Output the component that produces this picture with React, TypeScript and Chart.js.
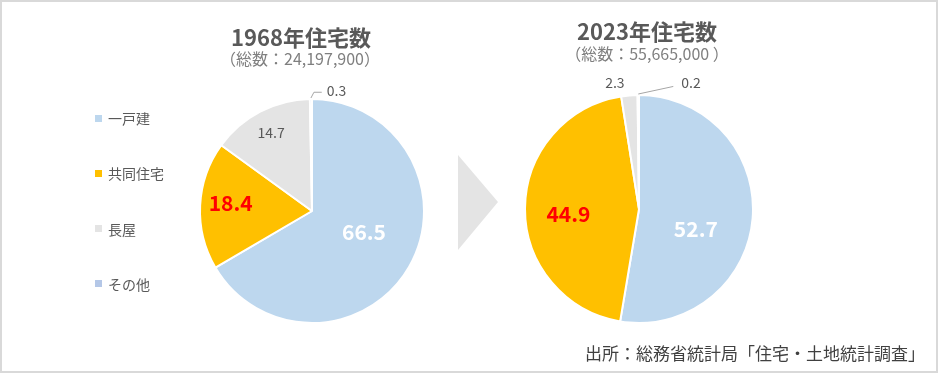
import React, { useEffect, useRef } from "react";
import { Chart, registerables } from "chart.js";

Chart.register(...registerables);

// ---- data ----
const categories = ["一戸建", "共同住宅", "長屋", "その他"];
const values1968 = [66.5, 18.4, 14.7, 0.3];
const values2023 = [52.7, 44.9, 2.3, 0.2];
const colors = ["#BDD7EE", "#FFC000", "#E4E4E4", "#B4C7E7"];
const title1968 = "1968年住宅数";
const subtitle1968 = "（総数：24,197,900）";
const title2023 = "2023年住宅数";
const subtitle2023 = "（総数：55,665,000 ）";
const sourceText = "出所：総務省統計局「住宅・土地統計調査」";

// ---- label styles ----
type LabelStyle = {
  frac: number;
  shift: number;
  color: string;
  bold: boolean;
  size: number;
  leader?: "elbow" | "straight";
};

const labelStyles1968: LabelStyle[] = [
  { frac: 0.5, shift: -8, color: "#FFFFFF", bold: true, size: 21 },
  { frac: 0.73, shift: 3, color: "#FF0000", bold: true, size: 21 },
  { frac: 0.79, shift: 0, color: "#595959", bold: false, size: 14 },
  { frac: 1.1, shift: 12, color: "#595959", bold: false, size: 14, leader: "elbow" },
];

const labelStyles2023: LabelStyle[] = [
  { frac: 0.53, shift: 15, color: "#FFFFFF", bold: true, size: 21 },
  { frac: 0.62, shift: -4, color: "#FF0000", bold: true, size: 21 },
  { frac: 1.125, shift: -6, color: "#595959", bold: false, size: 14 },
  { frac: 1.2, shift: 22.7, color: "#595959", bold: false, size: 14, leader: "straight" },
];

const FONT = '"Noto Sans CJK JP", "Noto Sans", sans-serif';

const sliceLabelPlugin = {
  id: "sliceLabels",
  afterDatasetsDraw(chart: any, _args: any, opts: any) {
    const styles: LabelStyle[] = opts.styles || [];
    const ctx: CanvasRenderingContext2D = chart.ctx;
    const meta = chart.getDatasetMeta(0);
    const data = chart.data.datasets[0].data as number[];
    meta.data.forEach((el: any, i: number) => {
      const s = styles[i];
      if (!s) return;
      const { x, y, startAngle, endAngle, outerRadius } = el.getProps(
        ["x", "y", "startAngle", "endAngle", "outerRadius"],
        true
      );
      const mid = (startAngle + endAngle) / 2;
      const a = mid + (s.shift * Math.PI) / 180;
      const r = outerRadius * s.frac;
      const lx = x + Math.cos(a) * r;
      const ly = y + Math.sin(a) * r;
      const text = data[i].toFixed(1);
      ctx.save();
      ctx.font = `${s.bold ? "bold " : ""}${s.size}px ${FONT}`;
      ctx.fillStyle = s.color;
      ctx.textAlign = "center";
      ctx.textBaseline = "middle";
      ctx.fillText(text, lx, ly);
      if (s.leader) {
        const w = ctx.measureText(text).width;
        const ex = x + Math.cos(mid) * (outerRadius + 1);
        const ey = y + Math.sin(mid) * (outerRadius + 1);
        ctx.strokeStyle = "#A6A6A6";
        ctx.lineWidth = 1;
        ctx.beginPath();
        ctx.moveTo(ex, ey);
        if (s.leader === "elbow") {
          ctx.lineTo(ex + 3, ly + 2);
          ctx.lineTo(lx - w / 2 - 5, ly + 2);
        } else {
          ctx.lineTo(lx - w / 2 - 8, ly + 4);
        }
        ctx.stroke();
      }
      ctx.restore();
    });
  },
};

function makePie(
  canvas: HTMLCanvasElement,
  values: number[],
  radius: number,
  padding: { left: number; right: number; top: number; bottom: number },
  styles: LabelStyle[]
) {
  return new Chart(canvas, {
    type: "pie",
    data: {
      labels: categories,
      datasets: [
        {
          data: values,
          backgroundColor: colors,
          borderColor: "#FFFFFF",
          borderWidth: 2,
          radius: radius,
        } as any,
      ],
    },
    options: {
      responsive: false,
      animation: false,
      layout: { padding },
      plugins: {
        legend: { display: false },
        tooltip: { enabled: false },
        sliceLabels: { styles },
      } as any,
    },
    plugins: [sliceLabelPlugin],
  });
}

export default function App() {
  const ref1 = useRef<HTMLCanvasElement>(null);
  const ref2 = useRef<HTMLCanvasElement>(null);

  useEffect(() => {
    const c1 = makePie(ref1.current!, values1968, 112, { left: 200, right: 46, top: 99, bottom: 52 }, labelStyles1968);
    const c2 = makePie(ref2.current!, values2023, 114, { left: 55, right: 187, top: 95, bottom: 52 }, labelStyles2023);
    return () => {
      c1.destroy();
      c2.destroy();
    };
  }, []);

  const textBase: React.CSSProperties = {
    position: "absolute",
    fontFamily: FONT,
    whiteSpace: "nowrap",
    textAlign: "center",
  };

  return (
    <div
      style={{
        position: "absolute",
        left: 0,
        top: 0,
        width: 940,
        height: 375,
        background: "#FFFFFF",
        overflow: "hidden",
      }}
    >
      <div
        style={{
          position: "absolute",
          left: 0,
          top: 0,
          width: 938,
          height: 373,
          border: "2px solid #D9D9D9",
          boxSizing: "border-box",
        }}
      />
      <canvas ref={ref1} width={470} height={375} style={{ position: "absolute", left: 0, top: 0 }} />
      <canvas ref={ref2} width={470} height={375} style={{ position: "absolute", left: 470, top: 0 }} />

      <svg width={940} height={375} style={{ position: "absolute", left: 0, top: 0 }}>
        <polygon points="458,155 498,202 458,250" fill="#E4E4E4" />
      </svg>

      <div style={{ ...textBase, left: 151, width: 300, top: 25, fontSize: 22, lineHeight: "22px", fontWeight: 700, color: "#595959" }}>
        {title1968}
      </div>
      <div style={{ ...textBase, left: 150, width: 300, top: 50, fontSize: 16, lineHeight: "16px", color: "#7F7F7F" }}>
        {subtitle1968}
      </div>
      <div style={{ ...textBase, left: 497, width: 300, top: 19, fontSize: 22, lineHeight: "22px", fontWeight: 700, color: "#595959" }}>
        {title2023}
      </div>
      <div style={{ ...textBase, left: 497, width: 300, top: 45, fontSize: 16, lineHeight: "16px", color: "#7F7F7F" }}>
        {subtitle2023}
      </div>

      {categories.map((c, i) => (
        <div key={c} style={{ position: "absolute", left: 95, top: 111 + i * 55.3, height: 14, display: "flex", alignItems: "center" }}>
          <div style={{ width: 7, height: 7, background: colors[i], marginRight: 6 }} />
          <span style={{ fontFamily: FONT, fontSize: 14, lineHeight: "14px", color: "#595959", whiteSpace: "nowrap" }}>{c}</span>
        </div>
      ))}

      <div style={{ ...textBase, textAlign: "right", right: 15, top: 344, fontSize: 17, lineHeight: "17px", color: "#404040" }}>
        {sourceText}
      </div>
    </div>
  );
}
